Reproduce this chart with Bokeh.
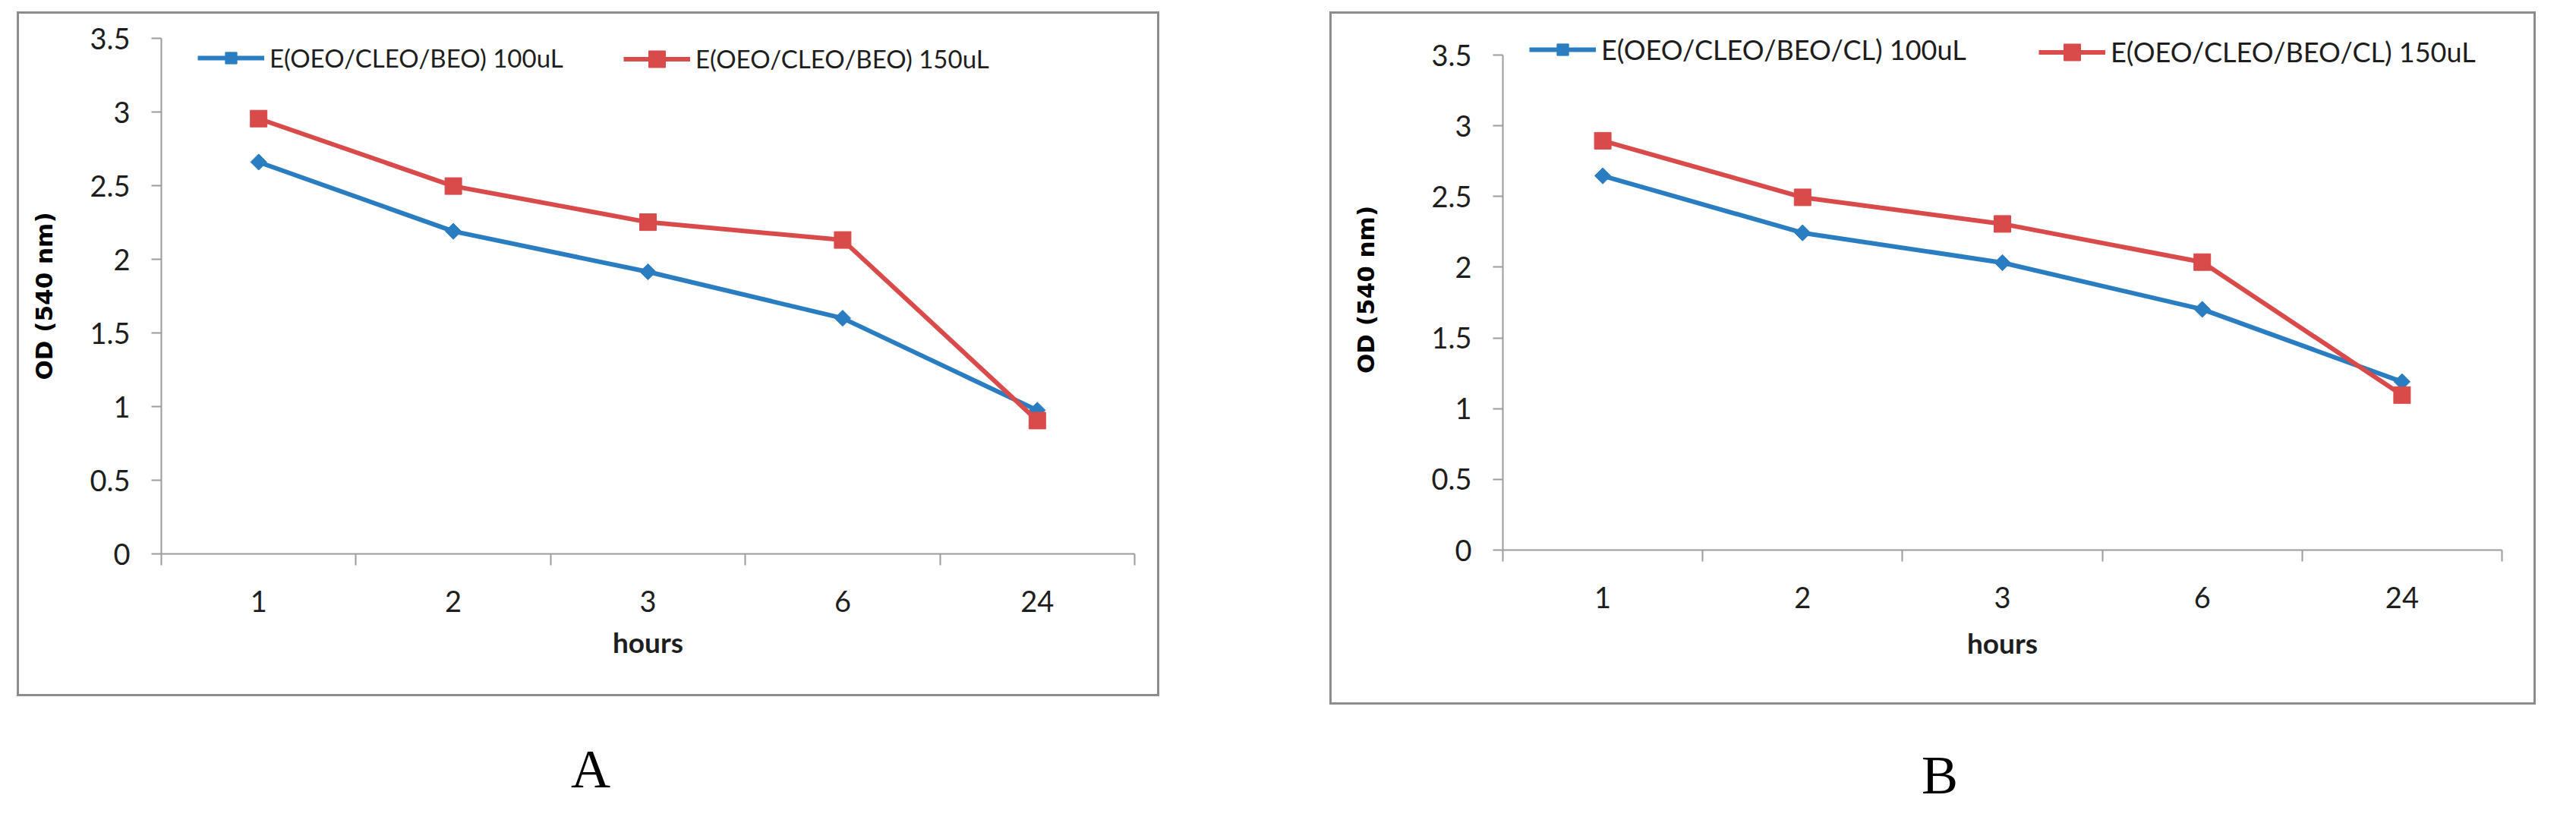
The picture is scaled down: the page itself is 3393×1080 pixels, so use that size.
from bokeh.plotting import figure
from bokeh.models import (Range1d, FixedTicker, Legend, LegendItem, Spacer, ColumnDataSource)
from bokeh.layouts import row, column
from bokeh.core.properties import value
from bokeh.embed import file_html
from bokeh.resources import INLINE

# ---------------- data ----------------
hours = ["1", "2", "3", "6", "24"]
y_ticks = [0, 0.5, 1, 1.5, 2, 2.5, 3, 3.5]
y_tick_labels = ["0", "0.5", "1", "1.5", "2", "2.5", "3", "3.5"]

a_100 = [2.66, 2.19, 1.915, 1.60, 0.975]
a_150 = [2.955, 2.497, 2.252, 2.131, 0.905]
b_100 = [2.646, 2.243, 2.032, 1.702, 1.19]
b_150 = [2.894, 2.494, 2.306, 2.036, 1.096]

a_names = ["E(OEO/CLEO/BEO) 100uL", "E(OEO/CLEO/BEO) 150uL"]
b_names = ["E(OEO/CLEO/BEO/CL) 100uL", "E(OEO/CLEO/BEO/CL) 150uL"]
panel_letters = ["A", "B"]

BLUE = "#2a7dc1"
RED = "#d94a4a"
AXIS_GRAY = "#9c9c9c"
BOX_GRAY = "#8c8c8c"
TXT = "#1e1e1e"
SANS = "Lato"
Y_MAX = 3.5

# page geometry (pixels)
PAGE_MARGIN = 8
TOP_GAP = 15
A_LEFT, A_W, A_H = 30, 1511, 908
B_LEFT, B_W, B_H = 1765, 1595, 919
BORDER = 3
LETTER_H = 136
DIAMOND_SIZE = 15
SQUARE_SIZE = 22


def make_panel(v100, v150, names, width, height, mb, y_top, legend_x, legend_mid,
               legend_font, ylab_standoff, xlab_standoff):
    p = figure(width=width, height=height, output_backend="svg", toolbar_location=None,
               x_range=Range1d(0, len(hours)), y_range=Range1d(0, y_top),
               min_border_left=mb[0], min_border_right=mb[1],
               min_border_top=mb[2], min_border_bottom=mb[3],
               styles={"border": "%dpx solid %s" % (BORDER, BOX_GRAY)})
    p.outline_line_color = None
    p.grid.visible = False
    p.background_fill_color = "white"
    p.border_fill_color = "white"

    xs = [i + 0.5 for i in range(len(hours))]
    src = ColumnDataSource(dict(x=xs, v100=v100, v150=v150))

    l1 = p.line("x", "v100", source=src, line_color=BLUE, line_width=6)
    m1 = p.scatter("x", "v100", source=src, marker="square", size=DIAMOND_SIZE,
                   angle=0.785398, fill_color=BLUE, line_color=BLUE)
    l2 = p.line("x", "v150", source=src, line_color=RED, line_width=6)
    m2 = p.scatter("x", "v150", source=src, marker="square", size=SQUARE_SIZE,
                   fill_color=RED, line_color=RED)

    # x axis: labels at category centres, ticks at category boundaries
    xa = p.xaxis[0]
    xa.ticker = FixedTicker(ticks=xs, minor_ticks=list(range(len(hours) + 1)))
    xa.major_label_overrides = {x: h for x, h in zip(xs, hours)}
    xa.major_tick_out = 0
    xa.major_tick_in = 0
    xa.minor_tick_out = 15
    xa.minor_tick_in = 0
    xa.minor_tick_line_color = AXIS_GRAY
    xa.minor_tick_line_width = 2
    xa.axis_line_color = AXIS_GRAY
    xa.axis_line_width = 2
    xa.major_label_text_font = SANS
    xa.major_label_text_font_size = "38px"
    xa.major_label_text_color = TXT
    xa.major_label_standoff = 33
    xa.axis_label = "hours"
    xa.axis_label_text_font = SANS
    xa.axis_label_text_font_style = "bold"
    xa.axis_label_text_font_size = "37px"
    xa.axis_label_text_color = TXT
    xa.axis_label_standoff = xlab_standoff

    ya = p.yaxis[0]
    ya.ticker = FixedTicker(ticks=y_ticks, minor_ticks=[])
    ya.bounds = (0, Y_MAX)
    ya.major_label_overrides = {t: s for t, s in zip(y_ticks, y_tick_labels)}
    ya.major_tick_out = 13
    ya.major_tick_in = 0
    ya.major_tick_line_color = AXIS_GRAY
    ya.major_tick_line_width = 2
    ya.axis_line_color = AXIS_GRAY
    ya.axis_line_width = 2
    ya.major_label_text_font = SANS
    ya.major_label_text_font_size = "38px"
    ya.major_label_text_color = TXT
    ya.major_label_standoff = 28
    ya.axis_label = "OD (540 nm)"
    ya.axis_label_text_font = "DejaVu Sans"
    ya.axis_label_text_font_style = "bold"
    ya.axis_label_text_font_size = "31px"
    ya.axis_label_text_color = "black"
    ya.axis_label_standoff = ylab_standoff

    # one legend per series so each sits where the reference puts it;
    # Bokeh draws a legend marker at 0.4 x glyph height, so size that to the series marker
    items = [LegendItem(label=names[0], renderers=[l1, m1]),
             LegendItem(label=names[1], renderers=[l2, m2])]
    for lx, item, msize in zip(legend_x, items, [DIAMOND_SIZE, SQUARE_SIZE]):
        gh = msize / 0.4
        lg = Legend(items=[item], location=(lx, legend_mid - gh / 2), orientation="horizontal",
                    glyph_width=88, glyph_height=int(round(gh)), label_height=30,
                    label_standoff=7, padding=0, margin=0, spacing=0,
                    border_line_color=None, background_fill_alpha=0,
                    label_text_font=SANS, label_text_font_size=legend_font,
                    label_text_color=TXT)
        p.add_layout(lg, "center")
    return p


# panel A: frame 58..737 for 0..3.5 ; legend centre 27 px below the frame top
pA = make_panel(a_100, a_150, a_names, A_W - 2 * BORDER, A_H - 2 * BORDER,
                (187, 36, 32, 191), 3.5, [48, 609], 652, "33px", 39, 14)
# panel B: frame extended upward (axis line bounded at 3.5) so the legend fits
pB = make_panel(b_100, b_150, b_names, B_W - 2 * BORDER, B_H - 2 * BORDER,
                (225, 48, 20, 207), 3.5 * 686 / 652, [35, 706], 656, "36px", 65, 20)

# letters under the two panels, in one strip measured in page pixels from its top-left
strip_w = B_LEFT + B_W - PAGE_MARGIN
letters = figure(width=strip_w, height=LETTER_H, output_backend="svg", toolbar_location=None,
                 x_range=Range1d(0, strip_w), y_range=Range1d(LETTER_H, 0), min_border=0,
                 x_axis_type=None, y_axis_type=None)
letters.grid.visible = False
letters.outline_line_color = None
letter_x = [A_LEFT + A_W / 2 - PAGE_MARGIN, B_LEFT + B_W / 2 - PAGE_MARGIN]
letter_y = [84, 92]
letters.text(x=letter_x, y=letter_y, text=panel_letters, text_font=value("Liberation Serif"),
             text_font_size="72px", text_align="center", text_baseline="middle",
             text_color="black")

layout = column(Spacer(height=TOP_GAP),
                row(Spacer(width=A_LEFT - PAGE_MARGIN), column(pA),
                    Spacer(width=B_LEFT - A_LEFT - A_W), column(pB)),
                letters)

open("out.html", "w").write(file_html(layout, INLINE))
